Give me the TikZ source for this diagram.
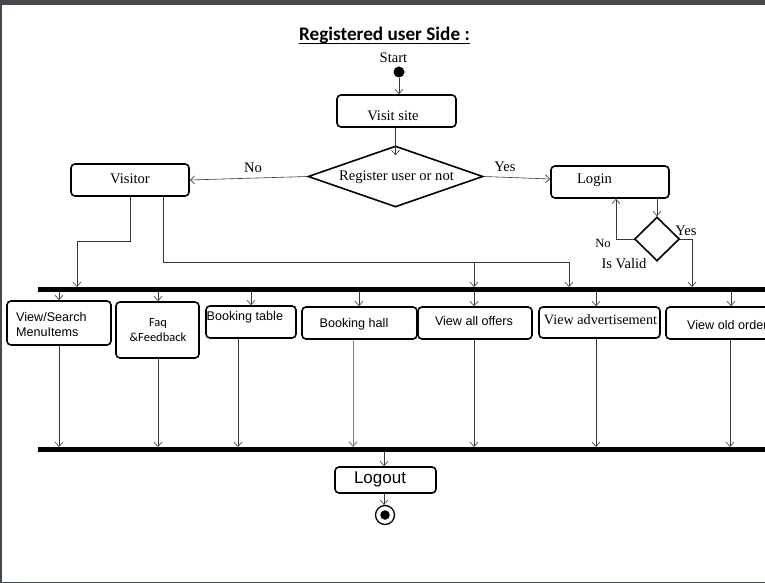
\documentclass[tikz,border=0pt]{standalone}
\usepackage{fontspec}
\setmainfont{Liberation Serif}
\newfontfamily\arialf{Liberation Sans}
\newfontfamily\calibf{Carlito}
\usetikzlibrary{arrows.meta,shapes.geometric,calc}
\definecolor{framegray}{RGB}{69,73,77}
\definecolor{linegray}{RGB}{55,55,55}
\begin{document}
\begin{tikzpicture}[x=1pt,y=-1pt,
  box/.style={draw=black,line width=1.6pt,rounded corners=4pt,inner sep=0pt,fill=white},
  dia/.style={diamond,draw=black,line width=1.6pt,inner sep=0pt,aspect=1},
  bar/.style={fill=black,draw=none,inner sep=0pt,minimum height=5pt,minimum width=762pt,anchor=north west},
  txt/.style={inner sep=0pt,font=\fontsize{14.6}{16}\selectfont},
  stxt/.style={inner sep=0pt,font=\arialf\fontsize{12.6}{15}\selectfont},
  arr/.style={draw=linegray,line width=0.6pt,-{Straight Barb[length=4.5pt,width=8pt]}},
  ln/.style={draw=linegray,line width=0.6pt}]
\useasboundingbox (0,0) rectangle (765,583);
\clip (0,0) rectangle (765,583);
% frame
\fill[framegray] (0,0) rectangle (765,5.5);
\fill[framegray] (0,0) rectangle (1.5,583);
\fill[framegray] (0,581.5) rectangle (765,583);
% title
\node[inner sep=0pt,anchor=base,font=\calibf\bfseries\fontsize{19.2}{22}\selectfont] (title) at (384.5,40.5) {Registered user Side :};
\draw[line width=1.1pt] ([yshift=-3pt]title.base west) -- ([yshift=-3pt]title.base east);
% start
\node[txt] (starttxt) at (393.5,58) {Start};
\node[circle,fill=black,minimum size=11pt,inner sep=0pt] (start) at (399,72) {};
% visit site
\node[box,minimum width=119pt,minimum height=32pt] (visit) at (396.5,111) {};
\node[txt] (visittxt) at (393,116) {Visit site};
% register diamond
\node[dia,minimum width=175pt,minimum height=61pt] (reg) at (395.5,176.5) {};
\node[txt] (regtxt) at (396.5,177) {Register user or not};
% visitor
\node[box,minimum width=118pt,minimum height=32pt] (visitor) at (130,180) {};
\node[txt] (visitortxt) at (130,179) {Visitor};
% login
\node[box,minimum width=118pt,minimum height=32pt] (login) at (610,182) {};
\node[txt] (logintxt) at (594.5,180) {Login};
% small diamond
\node[dia,minimum width=45pt,minimum height=44pt] (valid) at (657,239) {};
\node[inner sep=0pt,font=\fontsize{12.5}{14}\selectfont] (nosm) at (603,243) {No};
\node[txt] (validtxt) at (624,264) {Is Valid};
\node[txt] (yessm) at (686,231) {Yes};
% labels
\node[txt] (nolab) at (253,168) {No};
\node[txt] (yeslab) at (505,167) {Yes};
% bars
\node[bar] (bar1) at (38,287) {};
\node[bar] (bar2) at (38,447) {};
% boxes row
\node[box,minimum width=104pt,minimum height=44pt] (vs) at (59,323) {};
\node[stxt,align=left,anchor=west] (vstxt) at (16,324.5) {View/Search\\MenuItems};
\node[box,minimum width=83pt,minimum height=56pt] (faq) at (157.5,330) {};
\node[inner sep=0pt,align=center,font=\calibf\fontsize{12.5}{15}\selectfont] (faqtxt) at (158,330.5) {Faq\\\&Feedback};
\node[box,minimum width=90pt,minimum height=32pt] (bt) at (251,322) {};
\node[stxt,anchor=west] (bttxt) at (206.5,317) {Booking table};
\node[box,minimum width=115pt,minimum height=32pt] (bh) at (359.5,323) {};
\node[stxt] (bhtxt) at (354,324) {Booking hall};
\node[box,minimum width=114pt,minimum height=32pt] (vao) at (475,323) {};
\node[stxt] (vaotxt) at (474,321) {View all offers};
\node[box,minimum width=121pt,minimum height=31pt] (vad) at (599.5,322.5) {};
\node[inner sep=0pt,font=\fontsize{14.2}{16}\selectfont] (vadtxt) at (600.5,320) {View advertisement};
\node[box,minimum width=134pt,minimum height=32pt] (vold) at (733,323) {};
\node[stxt,anchor=west] (voldtxt) at (687,325) {View old orders};
% logout and end
\node[box,minimum width=101pt,minimum height=26pt] (logout) at (385.5,480) {};
\node[inner sep=0pt,font=\arialf\fontsize{17}{18}\selectfont] (logouttxt) at (380,479.5) {Logout};
\node[circle,draw=black,line width=1.3pt,minimum size=19pt,inner sep=0pt] (endc) at (385,515) {};
\node[circle,fill=black,minimum size=9.5pt,inner sep=0pt] (endin) at (endc) {};
% connectors top
\draw[arr] (start.south) -- (start.south |- visit.north);
\draw[arr] (visit.south -| reg.north) -- ([yshift=-10pt]reg.north);
\draw[arr] (reg.west) -- (visitor.east);
\draw[arr] (reg.east) -- ([yshift=3pt]login.west);
\draw[arr] (login.south -| valid.north) -- (valid.north);
\draw[arr] (valid.west) -| (login.south -| 616,0);
\draw[arr] (valid.east) -| (bar1.north -| 692,0);
\draw[arr] (visitor.south) -- (130,241) -| (bar1.north -| 77,0);
\coordinate (br) at (474,262);
\draw[arr] (visitor.south -| 163,0) -- (163,262) -| (bar1.north -| 569,0);
\draw[arr] (br) -- (bar1.north -| br);
% bar1 to boxes
\draw[arr] (bar1.south -| 59,0) -- (vs.north -| 59,0);
\draw[arr] (bar1.south -| 158,0) -- (faq.north -| 158,0);
\draw[arr] (bar1.south -| 251,0) -- (bt.north -| 251,0);
\draw[arr] (bar1.south -| 359,0) -- (bh.north -| 359,0);
\draw[arr] (bar1.south -| 474,0) -- (vao.north -| 474,0);
\draw[arr] (bar1.south -| 596,0) -- (vad.north -| 596,0);
\draw[arr] (bar1.south -| 731,0) -- (vold.north -| 731,0);
% boxes to bar2
\draw[arr] (vs.south -| 59,0) -- (bar2.north -| 59,0);
\draw[arr] (faq.south -| 158,0) -- (bar2.north -| 158,0);
\draw[arr] (bt.south -| 238,0) -- (bar2.north -| 238,0);
\draw[arr,draw=gray,line width=1pt] (bh.south -| 353,0) -- (bar2.north -| 353,0);
\draw[arr] (vao.south -| 474,0) -- (bar2.north -| 474,0);
\draw[arr] (vad.south -| 596,0) -- (bar2.north -| 596,0);
\draw[arr] (vold.south -| 730,0) -- (bar2.north -| 730,0);
% to logout / end
\draw[arr] (bar2.south -| 384,0) -- (logout.north -| 384,0);
\draw[arr] (logout.south -| 384,0) -- (endc.north -| 384,0);
\end{tikzpicture}
\end{document}
